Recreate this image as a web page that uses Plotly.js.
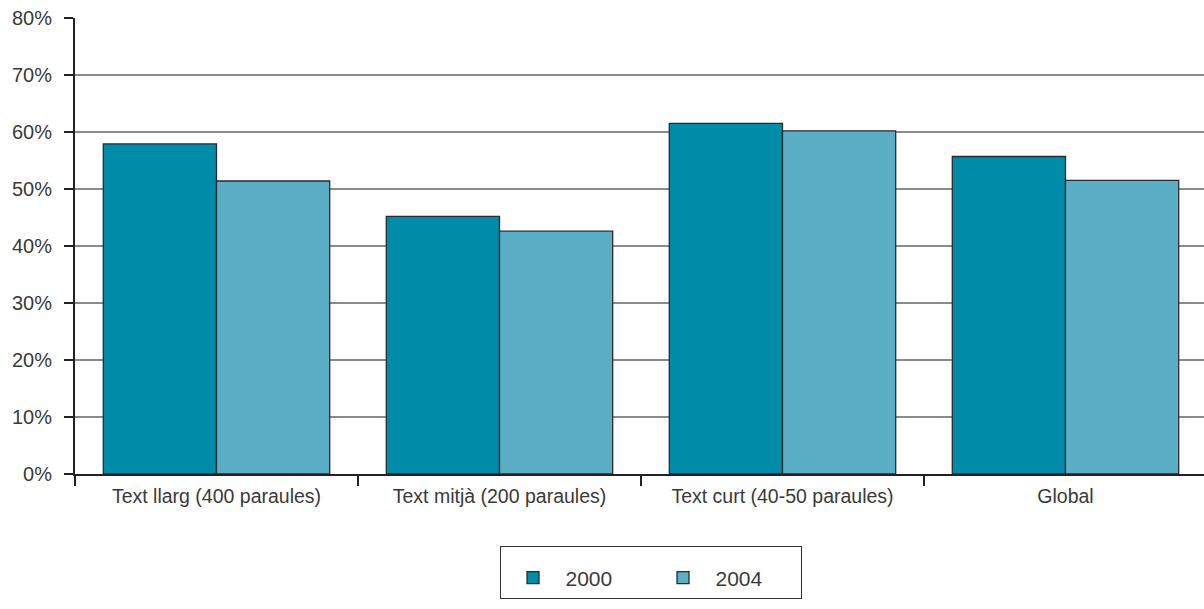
<!DOCTYPE html>
<html>
<head>
<meta charset="utf-8">
<script src="https://cdn.plot.ly/plotly-3.0.1.min.js"></script>
<style>
html,body{margin:0;padding:0;overflow:hidden;background:#fff;}
#chart{width:1208px;height:609px;}
</style>
</head>
<body>
<div id="chart"></div>
<script>
const categories = ["Text llarg (400 paraules)", "Text mitjà (200 paraules)", "Text curt (40-50 paraules)", "Global"];
const values2000 = [57.9, 45.2, 61.5, 55.7];
const values2004 = [51.4, 42.6, 60.2, 51.5];
const seriesNames = ["2000", "2004"];
const yTickVals = [0, 10, 20, 30, 40, 50, 60, 70, 80];
const yTickText = ["0%", "10%", "20%", "30%", "40%", "50%", "60%", "70%", "80%"];

const traces = [
  {type: "bar", name: seriesNames[0], x: categories, y: values2000,
   marker: {color: "#008ba8", line: {color: "#2b2b2b", width: 1.3}}},
  {type: "bar", name: seriesNames[1], x: categories, y: values2004,
   marker: {color: "#5aafc6", line: {color: "#2b2b2b", width: 1.3}}}
];

const layout = {
  width: 1208, height: 609,
  margin: {l: 75, r: 1, t: 18, b: 135},
  paper_bgcolor: "#fff", plot_bgcolor: "#fff",
  font: {family: "'Liberation Sans', Arial, sans-serif", color: "#3a3a3a"},
  barmode: "group", bargap: 0.2, bargroupgap: 0,
  showlegend: true,
  legend: {orientation: "h", x: 0.5084, xanchor: "center", y: -0.158, yanchor: "top",
    bordercolor: "#333", borderwidth: 1, font: {size: 21, color: "#3a3a3a"},
    entrywidth: 80, itemwidth: 55, tracegroupgap: 0,
    title: {text: "&nbsp;", font: {size: 8}, side: "top"}},
  xaxis: {type: "category", showline: true, linecolor: "#222", linewidth: 2,
    ticks: "outside", tickson: "boundaries", ticklen: 10, tickwidth: 2, tickcolor: "#222",
    ticklabelstandoff: 4,
    tickfont: {size: 19.5, color: "#3a3a3a"}, showgrid: false, zeroline: false},
  yaxis: {range: [0, 80], tickvals: yTickVals, ticktext: yTickText,
    showline: true, linecolor: "#222", linewidth: 2,
    ticks: "outside", ticklen: 9, tickwidth: 2, tickcolor: "#222", ticklabelstandoff: 8,
    tickfont: {size: 20, color: "#3a3a3a"},
    showgrid: true, gridcolor: "#8a8a8a", gridwidth: 1.5, zeroline: false}
};

Plotly.newPlot("chart", traces, layout, {displayModeBar: false, staticPlot: true});
</script>
</body>
</html>
